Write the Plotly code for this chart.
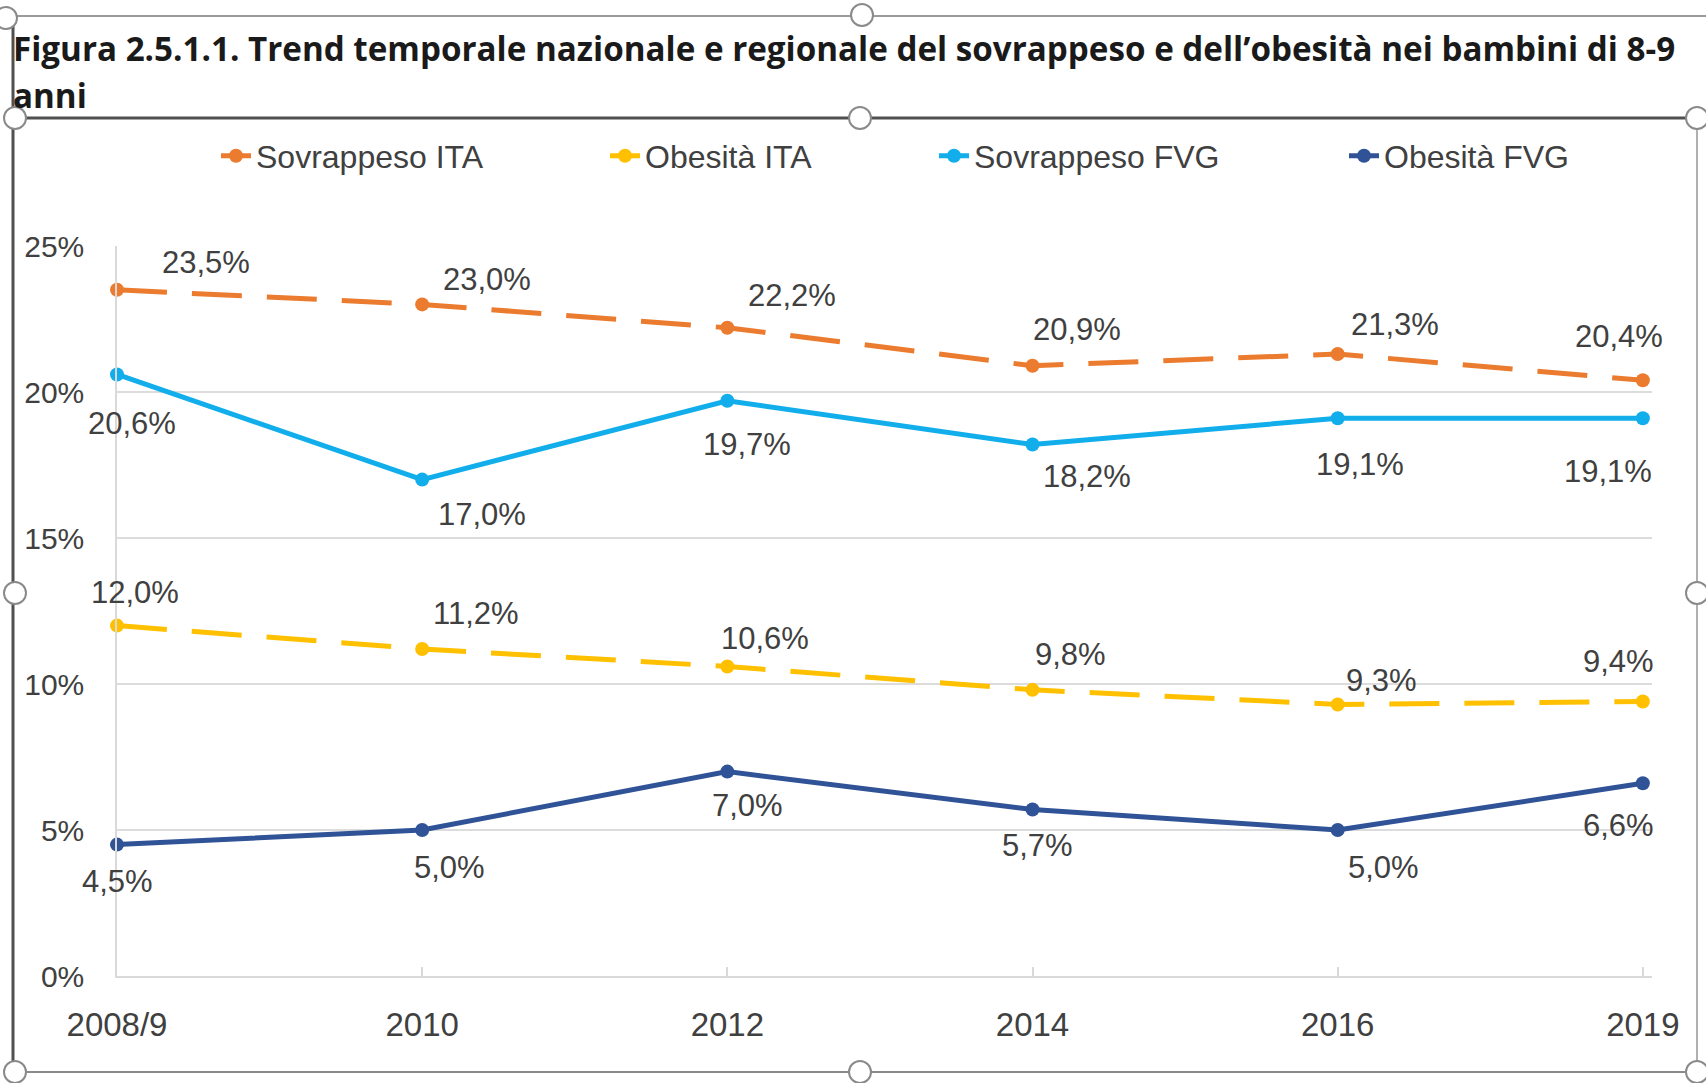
import plotly.graph_objects as go

# ---- data ----
categories = ["2008/9", "2010", "2012", "2014", "2016", "2019"]
sovrappeso_ita = [23.5, 23.0, 22.2, 20.9, 21.3, 20.4]
obesita_ita = [12.0, 11.2, 10.6, 9.8, 9.3, 9.4]
sovrappeso_fvg = [20.6, 17.0, 19.7, 18.2, 19.1, 19.1]
obesita_fvg = [4.5, 5.0, 7.0, 5.7, 5.0, 6.6]
series_names = ["Sovrappeso ITA", "Obesità ITA", "Sovrappeso FVG", "Obesità FVG"]
title_line1 = "Figura 2.5.1.1. Trend temporale nazionale e regionale del sovrappeso e dell’obesità nei bambini di 8-9"
title_line2 = "anni"

# ---- layout geometry (pixels) ----
W, H = 1706, 1083
L, R, T, B = 117, 1652, 246, 976
PW, PH = R - L, B - T


def px(x):
    return (x - L) / PW


def py(y):
    return (B - y) / PH


colors = ["#EB7B2E", "#FFC000", "#12AEEB", "#2F5396"]
dashes = ["50px,25px", "50px,25px", "solid", "solid"]
series = [sovrappeso_ita, obesita_ita, sovrappeso_fvg, obesita_fvg]

# label offsets (xshift, yshift) in px for each point of each series
label_offsets = [
    [(89, 27), (65, 25), (65, 32), (44, 36), (57, 30), (-24, 44)],
    [(18, 33), (54, 35), (38, 28), (38, 35), (44, 24), (-24, 40)],
    [(15, -49), (60, -35), (20, -44), (54, -32), (22, -46), (-35, -53)],
    [(0, -37), (27, -37), (20, -34), (5, -36), (46, -37), (-24, -42)],
]
legend_text_x = [262, 651, 980, 1390]

FONT = "Liberation Sans, Arial, sans-serif"
TXT = "#404040"

fig = go.Figure()
legend_ids = ["legend", "legend2", "legend3", "legend4"]
for i, (name, vals) in enumerate(zip(series_names, series)):
    fig.add_trace(go.Scatter(
        x=categories, y=vals, name=name, mode="lines+markers",
        line=dict(color=colors[i], width=5, dash=dashes[i]),
        marker=dict(color=colors[i], size=14, symbol="circle"),
        cliponaxis=False, legend=legend_ids[i],
    ))

annotations = []
for i, vals in enumerate(series):
    for j, v in enumerate(vals):
        dx, dy = label_offsets[i][j]
        annotations.append(dict(
            x=j, y=v, xref="x", yref="y",
            text=f"{v:.1f}".replace(".", ",") + "%",
            showarrow=False, xshift=dx, yshift=dy,
            font=dict(family=FONT, size=31, color=TXT),
        ))

TFONT = "Open Sans, Liberation Sans, sans-serif"
annotations.append(dict(x=px(11), y=py(49), xref="paper", yref="paper", xanchor="left", yanchor="middle",
                        text="<b>" + title_line1 + "</b>", showarrow=False,
                        font=dict(family=TFONT, size=33.2, color="#1a1a1a")))
annotations.append(dict(x=px(11), y=py(95), xref="paper", yref="paper", xanchor="left", yanchor="middle",
                        text="<b>" + title_line2 + "</b>", showarrow=False,
                        font=dict(family=TFONT, size=33.2, color="#1a1a1a")))

# frame decorations (selection box of the original screenshot)
shapes = []
def hline(y, x0, x1, color, w):
    shapes.append(dict(type="line", xref="paper", yref="paper", x0=px(x0), x1=px(x1), y0=py(y), y1=py(y),
                       line=dict(color=color, width=w), layer="above"))
def vline(x, y0, y1, color, w):
    shapes.append(dict(type="line", xref="paper", yref="paper", x0=px(x), x1=px(x), y0=py(y0), y1=py(y1),
                       line=dict(color=color, width=w), layer="above"))

hline(16, 10, 1706, "#9a9a9a", 2)
hline(118, 15, 1697, "#505050", 3)
hline(1072, 15, 1697, "#8a8a8a", 2)
vline(13, 16, 1072, "#505050", 3)
vline(1697, 118, 1072, "#b0b0b0", 2)
for (cx, cy) in [(6, 18), (862, 15), (15, 118), (860, 118), (1697, 118), (15, 593), (1697, 593),
                 (15, 1072), (860, 1072), (1697, 1072)]:
    r = 11
    shapes.append(dict(type="circle", xref="paper", yref="paper", x0=px(cx - r), x1=px(cx + r),
                       y0=py(cy + r), y1=py(cy - r), fillcolor="white",
                       line=dict(color="#8a8a8a", width=2), layer="above"))

layout_legends = {}
for i, lid in enumerate(legend_ids):
    layout_legends[lid] = dict(
        x=px(legend_text_x[i] - 46), y=py(156), xanchor="left", yanchor="middle",
        orientation="h", bgcolor="rgba(0,0,0,0)", borderwidth=0,
        font=dict(family=FONT, size=32, color=TXT),
    )

fig.update_layout(
    width=W, height=H,
    margin=dict(l=L, r=W - R, t=T, b=H - B, pad=0),
    paper_bgcolor="white", plot_bgcolor="white",
    showlegend=True,
    annotations=annotations, shapes=shapes,
    xaxis=dict(type="category", range=[0, 5.03], showgrid=False, zeroline=False,
               showline=True, linecolor="#d9d9d9", linewidth=2,
               ticks="inside", ticklen=9, tickcolor="#d9d9d9", tickwidth=1.5,
               tickfont=dict(family=FONT, size=33, color=TXT), ticklabelstandoff=18),
    yaxis=dict(range=[0, 25], dtick=5, ticksuffix="%", showgrid=True, gridcolor="#dcdcdc", gridwidth=1.5,
               zeroline=False, showline=True, linecolor="#d9d9d9", linewidth=1.5,
               tickfont=dict(family=FONT, size=30, color=TXT), ticklabelstandoff=25),
    **layout_legends,
)

fig.write_html("out.html", config={"displayModeBar": False},
               post_script="document.body.style.margin='0';")
